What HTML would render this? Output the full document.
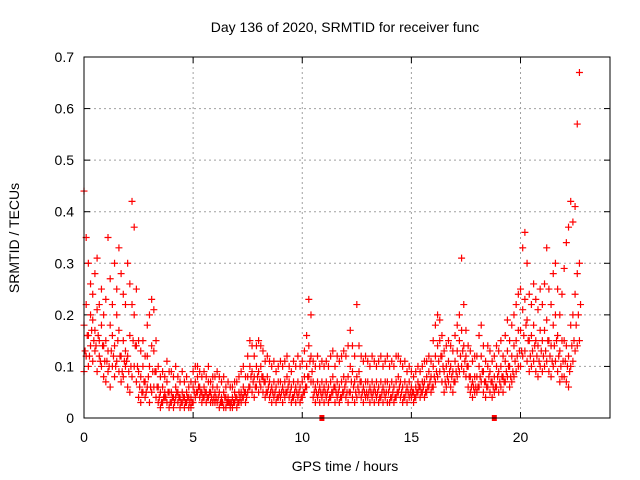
<!DOCTYPE html>
<html><head><meta charset="utf-8"><style>
body{margin:0;background:#fff;}
svg{display:block;font-family:"Liberation Sans",sans-serif;}
</style></head><body>
<svg id="chart" width="640" height="480" viewBox="0 0 640 480">
<rect width="640" height="480" fill="#fff"/>
<text x="345" y="32" text-anchor="middle" font-size="14" fill="#000">Day 136 of 2020, SRMTID for receiver func</text>
<text x="345" y="471" text-anchor="middle" font-size="14" fill="#000">GPS time / hours</text>
<text transform="translate(19,238) rotate(-90)" text-anchor="middle" font-size="14" fill="#000">SRMTID / TECUs</text>
<g id="grid"></g><g id="ticks"></g><g id="marks"></g>
<rect x="84" y="57" width="526" height="361" fill="none" stroke="#000" stroke-width="1"/>
</svg>
<script>
const xTicks=[0,5,10,15,20];
const yTicks=[0,0.1,0.2,0.3,0.4,0.5,0.6,0.7];
const yTickLabels=["0","0.1","0.2","0.3","0.4","0.5","0.6","0.7"];
const timeStep=0.1;
const loVals=[9,12,10,14,11,13,9,12,10,8,7,9,6,10,8,11,9,7,8,10,6,5,8,10,7,4,3,5,4,6,3,5,6,4,3,2,3,4,3,2,3,2,4,3,2,3,2,3,2,2,3,4,5,4,3,4,3,4,3,3,3,3,2,3,2,2,3,2,2,3,2,3,3,4,3,5,6,5,4,6,5,6,5,4,5,4,3,4,3,4,4,3,4,5,4,3,4,3,4,3,4,5,6,8,7,4,3,4,3,4,3,4,3,4,5,3,4,3,4,5,4,3,5,4,3,4,5,4,3,4,4,3,4,3,4,3,4,3,4,3,3,4,3,4,5,4,3,4,3,4,4,3,4,5,4,5,4,5,6,5,6,7,8,9,7,5,6,7,6,5,7,8,9,10,9,8,6,5,4,5,5,6,7,5,4,6,5,4,5,6,5,6,5,7,8,6,7,8,9,10,10,12,13,11,9,10,11,9,8,10,9,10,11,9,8,10,11,9,7,8,8,7,6,10,11,13,14,15];
const q1Vals=[13,16,12,17,15,14,16,11,14,11,11,10,13,12,10,15,12,9,11,11,9,10,15,14,10,6,5,7,5,8,6,9,9,6,4,3,4,4,5,3,4,3,5,4,3,4,3,4,3,3,5,5,6,5,4,5,4,5,4,4,4,4,3,3,4,3,3,3,3,4,3,4,4,5,4,6,8,7,6,8,7,8,7,5,6,5,5,5,4,5,5,5,5,6,5,4,5,5,5,4,5,6,8,11,9,5,5,5,5,5,5,5,4,5,6,5,5,4,5,6,5,5,7,6,5,6,7,5,5,5,5,5,5,5,5,4,5,5,5,5,4,5,4,5,6,5,4,5,5,5,5,4,5,6,5,6,5,6,7,6,8,9,11,12,10,7,8,9,8,7,9,10,12,13,11,10,8,6,6,6,6,8,9,7,6,8,7,6,6,8,7,8,7,9,10,8,9,11,12,13,13,16,18,15,12,13,14,12,11,13,12,13,15,12,11,14,15,12,10,11,11,10,9,14,15,18,20,22];
const midVals=[18,22,16,20,19,17,21,15,18,14,15,13,18,16,14,20,17,12,15,13,12,16,22,20,14,9,8,10,7,12,10,14,13,9,6,5,6,5,7,5,5,4,6,5,4,5,4,5,4,4,6,7,8,6,5,6,5,7,5,6,5,6,5,4,5,4,4,3,4,5,4,5,5,6,5,8,10,9,8,10,9,10,8,7,8,7,6,7,6,7,7,6,7,8,7,6,7,6,7,6,7,8,10,14,12,7,6,7,6,7,6,7,6,7,8,6,7,6,7,8,7,8,10,9,7,8,9,7,6,7,7,6,7,6,7,6,7,6,7,7,6,7,6,7,8,7,6,7,6,7,6,5,6,7,6,7,7,8,9,8,10,12,14,15,12,9,10,11,10,9,11,13,15,17,14,12,10,8,7,8,8,10,12,9,7,10,9,7,8,10,9,10,8,11,13,10,12,14,15,17,17,21,23,19,15,16,18,15,14,17,15,17,19,15,14,18,20,16,13,15,15,14,12,18,20,24,28,30];
const hiVals=[44,35,30,26,24,28,31,22,25,20,23,35,27,22,30,25,33,28,24,22,30,26,42,37,25,15,13,15,12,18,20,23,21,15,10,8,9,8,11,9,9,8,10,8,7,9,7,8,6,7,9,10,10,9,8,9,8,10,7,8,8,9,8,7,8,6,7,6,6,7,7,8,9,10,8,12,15,14,12,14,15,14,13,11,12,11,10,11,9,10,11,10,11,12,10,9,11,10,12,10,11,13,16,23,20,11,10,12,10,11,10,11,10,12,13,10,12,11,12,13,12,14,17,14,12,22,14,12,11,12,11,10,12,11,10,11,12,10,11,12,10,11,10,12,12,11,10,11,9,10,9,8,9,10,9,10,11,11,12,11,15,18,20,19,16,13,14,15,14,13,16,18,20,31,22,17,14,13,11,12,12,16,18,14,11,14,13,11,12,14,13,15,12,16,19,15,18,20,22,24,25,33,36,30,24,22,26,23,21,25,22,26,33,25,22,28,30,25,20,24,29,34,37,42,38,41,57,67];
const gapTimes=[10.9,18.8];
const NS="http://www.w3.org/2000/svg";
const X0=84,X1=610,XMAX=24.1,Y0=418,Y1=57,YMAX=0.7;
function xs(t){return X0+(X1-X0)*t/XMAX;}
function ys(v){return Y0-(Y0-Y1)*v/YMAX;}
function mk(tag,attrs,parent){const e=document.createElementNS(NS,tag);for(const k in attrs)e.setAttribute(k,attrs[k]);parent.appendChild(e);return e;}
const grid=document.getElementById('grid'),ticks=document.getElementById('ticks'),marks=document.getElementById('marks');
xTicks.forEach(t=>{const x=xs(t);
 if(t>0){const g=mk('line',{x1:x,x2:x,y1:Y1,y2:Y0,stroke:'#a0a0a0','stroke-dasharray':'2,3'},grid);
 
 }
 mk('line',{x1:x,x2:x,y1:Y0,y2:Y0-6,stroke:'#000'},ticks);
 mk('line',{x1:x,x2:x,y1:Y1,y2:Y1+6,stroke:'#000'},ticks);
 const l=mk('text',{x:x,y:Y0+24,'text-anchor':'middle','font-size':14},ticks);l.textContent=t;
 
 
});
yTicks.forEach((v,i)=>{const y=ys(v);
 if(v>0&&v<0.7){const g=mk('line',{x1:X0,x2:X1,y1:y,y2:y,stroke:'#a0a0a0','stroke-dasharray':'2,3'},grid);
 
 }
 mk('line',{x1:X0,x2:X0+6,y1:y,y2:y,stroke:'#000'},ticks);
 mk('line',{x1:X1,x2:X1-6,y1:y,y2:y,stroke:'#000'},ticks);
 const l=mk('text',{x:X0-10,y:y+5,'text-anchor':'end','font-size':14},ticks);l.textContent=yTickLabels[i];
 
 
});
function plus(t,v){const x=xs(t),y=ys(v);
 const p=mk('path',{d:`M${x-3.5},${y}H${x+3.5}M${x},${y-3.5}V${y+3.5}`,stroke:'#ff0000','stroke-width':1.2,fill:'none'},marks);
 
 }
[loVals,midVals,hiVals].forEach(arr=>arr.forEach((v,i)=>plus(i*timeStep,v/100)));
q1Vals.forEach((v,i)=>plus(i*timeStep+timeStep/2,v/100));
gapTimes.forEach(t=>{const r=mk('rect',{x:xs(t)-2.5,y:Y0-3,width:5,height:6,fill:'#ff0000'},marks);
 
 });
</script>
</body></html>
